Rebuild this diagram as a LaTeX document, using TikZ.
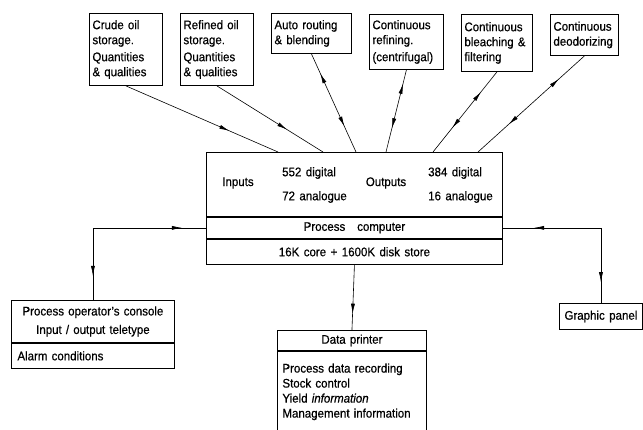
\documentclass[tikz,border=0pt]{standalone}
\usepackage{fontspec}
\setmainfont{Liberation Sans}[WordSpace=1.4, FakeStretch=0.92, FakeBold=0.5]
\usetikzlibrary{arrows.meta,positioning,decorations.markings}

\begin{document}
\begin{tikzpicture}[
    x=1pt, y=-1pt,
    >={Latex[length=10pt,width=4pt]},
    font=\fontsize{12.5}{15}\selectfont,
    box/.style={draw, anchor=north west, align=left, inner sep=3pt, line width=0.9pt},
    link/.style={line width=0.6pt, postaction={decorate}},
    oneway/.style={link, decoration={markings, mark=at position #1 with {\arrow{>}}}},
    twoway/.style 2 args={link, decoration={markings,
        mark=at position #1 with {\arrowreversed{>}},
        mark=at position #2 with {\arrow{>}}}}
]
\useasboundingbox (0,0) rectangle (643,429);
% plant units
\node[box, text width=67pt, minimum height=72pt] (crude) at (89,13) {Crude oil\\storage.\\[2pt]Quantities\\\& qualities};
\node[box, text width=67pt, minimum height=72pt] (refined) at (180,13) {Refined oil\\storage.\\[2pt]Quantities\\\& qualities};
\node[box, text width=74pt, minimum height=40pt] (routing) at (271,13) {Auto routing\\\& blending};
\node[box, text width=68pt, minimum height=55pt] (refining) at (369,14) {Continuous\\refining.\\[2pt](centrifugal)};
\node[box, text width=65pt, minimum height=57pt] (bleach) at (461,14) {Continuous\\bleaching \&\\filtering};
\node[box, text width=62pt, minimum height=41pt] (deodor) at (550,14) {Continuous\\deodorizing};
% process computer
\node[box, minimum width=296pt, minimum height=64pt] (io) at (206,152) {};
\node[box, anchor=north, minimum width=296pt, minimum height=21pt] (pc) at (io.south) {Process\hspace{0.6em} computer};
\node[box, anchor=north, minimum width=296pt, minimum height=25pt] (store) at (pc.south) {16K core + 1600K disk store};
\node (inlab) at (238,183) {Inputs};
\node[anchor=west, inner sep=0pt] (indig) at (282,173) {552 digital};
\node[anchor=west, inner sep=0pt] (inana) at (282,197) {72 analogue};
\node (outlab) at (386,183) {Outputs};
\node[anchor=west, inner sep=0pt] (outdig) at (428,173) {384 digital};
\node[anchor=west, inner sep=0pt] (outana) at (428,197) {16 analogue};
% peripherals
\node[box, align=center, inner xsep=6pt, text width=151pt, minimum height=42pt] (console) at (11,300) {Process operator's console\\[3.5pt]Input / output teletype};
\node[box, anchor=north, inner xsep=6pt, text width=151pt, minimum height=25pt] (alarm) at (console.south) {Alarm conditions};
\node[box, minimum width=83pt, minimum height=26pt] (panel) at (559,303) {Graphic panel};
\node[box, align=center, text width=143pt, minimum height=20pt] (printer) at (277,330) {Data printer};
\node[box, anchor=north, inner xsep=5pt, text width=139pt, minimum height=81pt] (report) at (printer.south) {Process data recording\\Stock control\\Yield \textit{information}\\Management information};
% connections
\draw[oneway=0.68] (crude.south) -- ([xshift=72pt]io.north west);
\draw[oneway=0.66] (refined.south) -- ([xshift=117pt]io.north west);
\draw[twoway={0.2}{0.74}] (routing.south) -- ([xshift=150pt]io.north west);
\draw[twoway={0.17}{0.71}] (refining.south) -- ([xshift=180pt]io.north west);
\draw[twoway={0.25}{0.7}] (bleach.south) -- ([xshift=227pt]io.north west);
\draw[twoway={0.24}{0.71}] (deodor.south) -- ([xshift=272pt]io.north west);
\draw[twoway={0.13}{0.87}] (console.north) |- (pc.west);
\draw[twoway={0.18}{0.88}] (pc.east) -| (panel.north);
\draw[oneway=0.75] (store.south) -- (printer.north);
\end{tikzpicture}
\end{document}
